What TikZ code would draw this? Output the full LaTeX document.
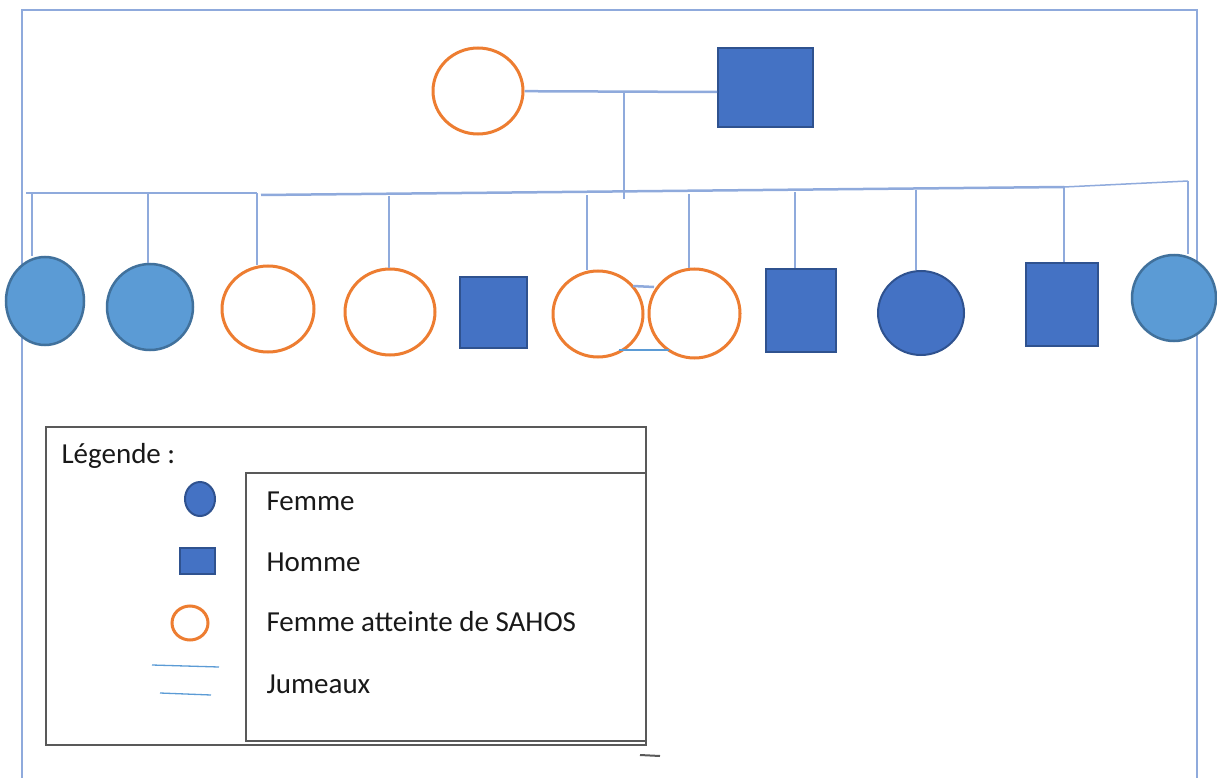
\documentclass[tikz,border=0pt]{standalone}
\usepackage{fontspec}
\setmainfont{Carlito}
\usetikzlibrary{shapes.geometric}

\definecolor{sahos}{HTML}{ED7D31}
\definecolor{bleu}{HTML}{4472C4}
\definecolor{bleubord}{HTML}{2F528F}
\definecolor{clair}{HTML}{5B9BD5}
\definecolor{clairbord}{HTML}{41719C}
\definecolor{lien}{HTML}{8FAADC}
\definecolor{cadre}{HTML}{595959}

\tikzset{
  femme/.style={ellipse, draw=bleubord, fill=bleu, line width=2pt, inner sep=0pt},
  femmeclair/.style={ellipse, draw=clairbord, fill=clair, line width=2.5pt, inner sep=0pt},
  atteinte/.style={ellipse, draw=sahos, fill=white, line width=3pt, inner sep=0pt},
  homme/.style={rectangle, draw=bleubord, fill=bleu, line width=2pt, inner sep=0pt},
  lien/.style={draw=lien, line width=2.5pt},
  jum/.style={draw=clair, line width=1.3pt},
  texte/.style={anchor=west, text=black!90, font=\fontsize{29}{32}\selectfont}
}

\begin{document}
\begin{tikzpicture}[x=1pt, y=-1pt]
        \useasboundingbox (0, 0) rectangle (1217, 778);

        % cadre
        \draw[lien] (22, 778) -- (22, 10) -- (1197, 10) -- (1197, 778);

        % parents
        \node[atteinte, minimum width=90, minimum height=86] (mere) at (478, 91) {};
        \node[homme, minimum width=95, minimum height=79] (pere) at (765.5, 87.5) {};
        \coordinate (union) at (624, 92);
        \coordinate (fratrie) at (624, 199);
        \draw[lien] (mere) -- (pere.west |- union);
        \draw[lien] (union) -- (fratrie);

        % enfants
        \node[femmeclair, minimum width=78, minimum height=88] (e1) at (45, 301) {};
        \node[femmeclair, minimum width=86, minimum height=86] (e2) at (150, 307) {};
        \node[atteinte, minimum width=92, minimum height=86] (e3) at (268, 309) {};
        \node[atteinte, minimum width=90, minimum height=86] (e4) at (390, 312) {};
        \node[homme, minimum width=67, minimum height=71] (e5) at (493.5, 312.5) {};
        \node[atteinte, minimum width=90, minimum height=86] (e6) at (598, 314) {};
        \node[atteinte, minimum width=91, minimum height=89] (e7) at (694.5, 313.5) {};
        \node[homme, minimum width=70, minimum height=83] (e8) at (801, 310.5) {};
        \node[femme, minimum width=86, minimum height=84] (e9) at (921, 313) {};
        \node[homme, minimum width=72, minimum height=83] (e10) at (1062, 304.5) {};
        \node[femmeclair, minimum width=84, minimum height=86] (e11) at (1174, 298) {};

        % ligne de fratrie
        \coordinate (s1) at (32, 193);
        \coordinate (s2) at (148, 193);
        \coordinate (s3) at (257, 193);
        \coordinate (s4) at (389, 196);
        \coordinate (s6) at (587, 195);
        \coordinate (s7) at (689, 194);
        \coordinate (s8) at (795, 192);
        \coordinate (s9) at (916, 190);
        \coordinate (s10) at (1064, 187);
        \coordinate (s11) at (1188, 181);
        \draw[lien] (26, 193) -- (s3);
        \draw[lien] (261, 195) -- (s10);
        \draw[lien, line width=1.5pt] (s10) -- (s11);

        \draw[lien] (s1) -- (s1 |- e1.north);
        \draw[lien] (s2) -- (s2 |- e2.north);
        \draw[lien] (s3) -- (s3 |- e3.north);
        \draw[lien] (s4) -- (s4 |- e4.north);
        \draw[lien] (s6) -- (s6 |- e6.north);
        \draw[lien] (s7) -- (s7 |- e7.north);
        \draw[lien] (s8) -- (s8 |- e8.north);
        \draw[lien] (s9) -- (s9 |- e9.north);
        \draw[lien] (s10) -- (s10 |- e10.north);
        \draw[lien, line width=1.5pt] (s11) -- (s11 |- e11.north);

        % jumeaux
        \draw[lien] (633, 286) -- (654, 287);
        \draw[jum] (619, 350) -- (669, 350);

        % legende
        \node[draw=cadre, line width=2pt, minimum width=600, minimum height=318, inner sep=0pt] (legende) at (346, 586) {};
        \node[draw=cadre, line width=2pt, minimum width=400, minimum height=268, inner sep=0pt] (cases) at (446, 607) {};
        \node[texte] (titre) at (58, 456) {Légende :};
        \node[femme, minimum width=30, minimum height=34] (lf) at (200, 499) {};
        \node[homme, minimum width=35, minimum height=26] (lh) at (197.5, 561) {};
        \node[atteinte, minimum width=36, minimum height=34] (la) at (190, 623) {};
        \draw[jum] (152, 665) -- (219, 667);
        \draw[jum] (160, 693) -- (211, 695);
        \node[texte] (tf) at (263, 501) {Femme};
        \node[texte] (th) at (263, 562) {Homme};
        \node[texte] (ta) at (263, 622) {Femme atteinte de SAHOS};
        \node[texte] (tj) at (263, 684) {Jumeaux};
        \draw[cadre, line width=2pt] (640, 755) -- (660, 756);

    \end{tikzpicture}
\end{document}
